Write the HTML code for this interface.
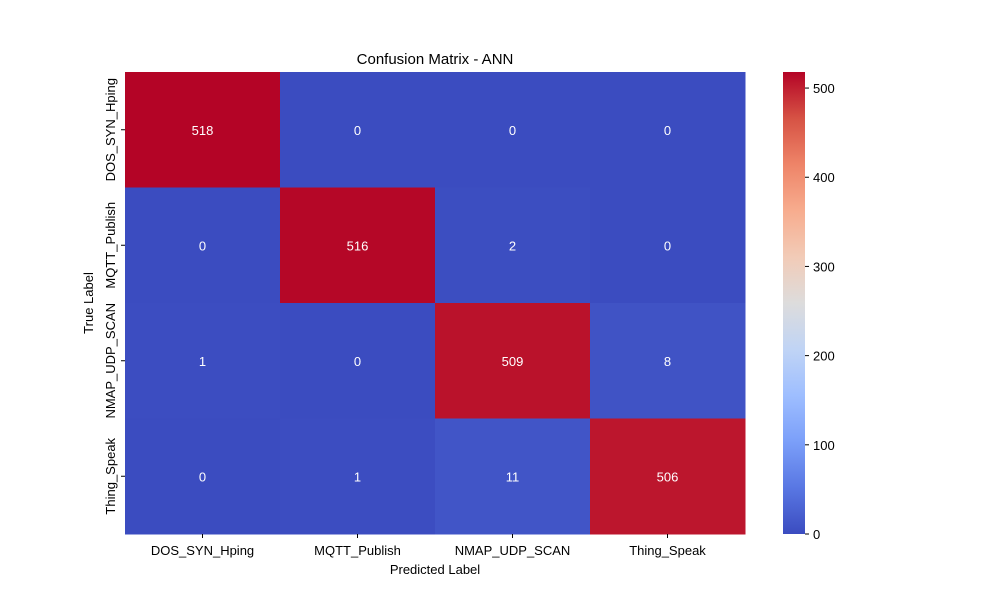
<!DOCTYPE html>
<html><head><meta charset="utf-8">
<style>
body{margin:0;background:#fff;}
svg text{font-family:"Liberation Sans","DejaVu Sans",sans-serif;}
</style></head>
<body>
<svg id="chart" width="1000" height="600" xmlns="http://www.w3.org/2000/svg">
<rect width="1000" height="600" fill="#fff"/>
<text x="435" y="64" text-anchor="middle" font-size="15">Confusion Matrix - ANN</text>
<g id="cells"></g>
<g id="axes"></g>
<defs><linearGradient id="cg" x1="0" y1="1" x2="0" y2="0"></linearGradient></defs>
<g id="cbar"></g>
</svg>
<script>
const predLabels = ["DOS_SYN_Hping","MQTT_Publish","NMAP_UDP_SCAN","Thing_Speak"];
const trueLabels = ["DOS_SYN_Hping","MQTT_Publish","NMAP_UDP_SCAN","Thing_Speak"];
const row0 = [518,0,0,0];
const row1 = [0,516,2,0];
const row2 = [1,0,509,8];
const row3 = [0,1,11,506];
const matrix = [row0,row1,row2,row3];
const cbTicks = [0,100,200,300,400,500];

const NS="http://www.w3.org/2000/svg";
const X0=125,X1=745,Y0=72,Y1=534;
const vmin=0, vmax=Math.max(...matrix.flat());
const stops=["#3b4cc0","#5977e3","#7b9ff9","#9ebeff","#c0d4f5","#dddcdc","#f2cbb7","#f7ac8e","#ee8468","#d65244","#b40426"];
function hex(h){return [1,3,5].map(i=>parseInt(h.substr(i,2),16));}
function cmap(v){let t=(v-vmin)/(vmax-vmin);t=Math.max(0,Math.min(1,t));const p=t*10,i=Math.min(9,Math.floor(p)),f=p-i;const a=hex(stops[i]),b=hex(stops[i+1]);return `rgb(${a.map((c,k)=>Math.round(c+(b[k]-c)*f)).join(",")})`;}
function mk(tag,attrs,parent,text){const e=document.createElementNS(NS,tag);for(const k in attrs)e.setAttribute(k,attrs[k]);if(text!==undefined)e.textContent=text;parent.appendChild(e);return e;}
const cw=(X1-X0)/predLabels.length, ch=(Y1-Y0)/trueLabels.length;
const xPos=j=>X0+j*cw, yPos=i=>Y0+i*ch;
const cells=document.getElementById("cells"), axes=document.getElementById("axes");
matrix.forEach((row,i)=>row.forEach((v,j)=>{
  const r=mk("rect",{x:xPos(j),y:yPos(i),width:cw+0.5,height:ch+0.5,fill:cmap(v)},cells);
  
  
  const t=mk("text",{x:xPos(j)+cw/2,y:yPos(i)+ch/2+5,"text-anchor":"middle","font-size":"13",fill:"#fff"},cells,String(v));
  
  
}));
predLabels.forEach((l,j)=>{
  const x=xPos(j)+cw/2;
  mk("line",{x1:x,x2:x,y1:Y1,y2:Y1+4,stroke:"#000"},axes);
  const t=mk("text",{x:x,y:Y1+21,"text-anchor":"middle","font-size":"13"},axes,l);
  
  
});
trueLabels.forEach((l,i)=>{
  const y=yPos(i)+ch/2;
  mk("line",{x1:X0-4,x2:X0,y1:y,y2:y,stroke:"#000"},axes);
  const t=mk("text",{x:0,y:0,transform:`translate(${X0-10},${y}) rotate(-90)`,"text-anchor":"middle","font-size":"13"},axes,l);
  
  
});
let t=mk("text",{x:435,y:574,"text-anchor":"middle","font-size":"13"},axes,"Predicted Label");


t=mk("text",{x:0,y:0,transform:`translate(93,303) rotate(-90)`,"text-anchor":"middle","font-size":"13"},axes,"True Label");


// colorbar
const grad=document.getElementById("cg");
stops.forEach((c,k)=>mk("stop",{offset:(k/10),"stop-color":c},grad));
const cb=document.getElementById("cbar");
const CBX=783,CBW=22;
const r=mk("rect",{x:CBX,y:Y0,width:CBW,height:Y1-Y0,fill:"url(#cg)"},cb);


const cbY=v=>Y1-(v-vmin)/(vmax-vmin)*(Y1-Y0);
cbTicks.forEach(v=>{
  const y=cbY(v);
  mk("line",{x1:CBX+CBW,x2:CBX+CBW+4,y1:y,y2:y,stroke:"#000"},cb);
  const tt=mk("text",{x:CBX+CBW+8,y:y+5,"font-size":"13"},cb,String(v));
  
  
});
</script>
</body></html>
